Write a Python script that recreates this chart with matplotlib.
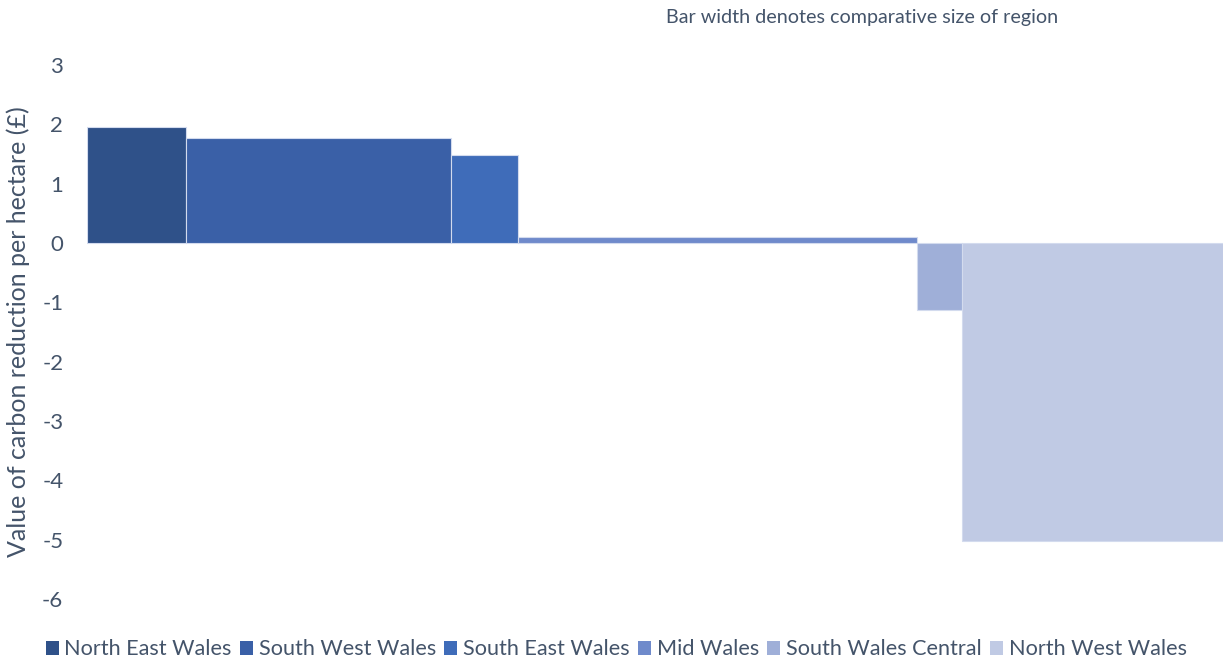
import numpy as np
import matplotlib.pyplot as plt
from matplotlib.patches import Patch

plt.rcParams['font.family'] = ['Lato', 'DejaVu Sans']
plt.rcParams['axes.unicode_minus'] = False

regions = ['North East Wales', 'South West Wales', 'South East Wales',
           'Mid Wales', 'South Wales Central', 'North West Wales']
values = [1.96, 1.77, 1.48, 0.1, -1.13, -5.03]
sizes = [99, 265, 67, 399, 45, 261]
colours = ['#2F5189', '#3A60A7', '#3F6CB9', '#6F8ACB', '#9FAFD8', '#C0CAE4']
text_col = '#44546A'

left = np.concatenate([[0], np.cumsum(sizes)[:-1]])

fig = plt.figure(figsize=(12.25, 6.64), dpi=100)
ax = fig.add_axes([0.071, 0.098, 0.927, 0.804])

ax.bar(left, values, width=sizes, align='edge', color=colours,
       edgecolor='#D3DBEE', linewidth=0.8)

ax.set_xlim(0, sum(sizes))
ax.set_ylim(-6, 3)
ax.set_yticks(range(-6, 4))
ax.set_xticks([])
for s in ax.spines.values():
    s.set_visible(False)
ax.tick_params(axis='y', length=0, pad=17, labelsize=16, labelcolor=text_col)
ax.set_ylabel('Value of carbon reduction per hectare (£)', fontsize=18,
              color=text_col)
ax.yaxis.set_label_coords(-0.05, 0.5)

fig.text(0.704, 0.974, 'Bar width denotes comparative size of region',
         ha='center', va='center', fontsize=14.2, color=text_col)

handles = [Patch(facecolor=c, edgecolor='none') for c in colours]
fig.legend(handles, regions, loc='center', bbox_to_anchor=(0.503, 0.022),
           ncol=6, frameon=False, fontsize=15.6, handlelength=0.6,
           handleheight=0.6, handletextpad=0.25, columnspacing=0.4,
           labelcolor=text_col)

fig.savefig('out.png', dpi=100)
